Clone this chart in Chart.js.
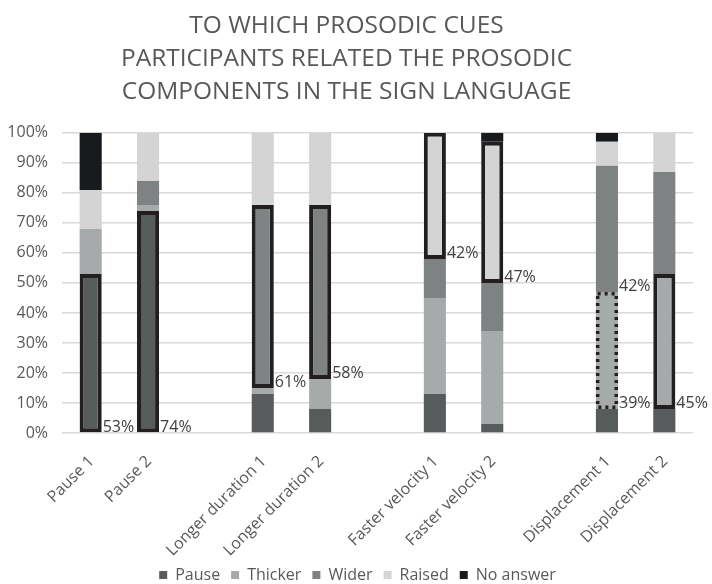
<!DOCTYPE html>
<html>
<head>
<meta charset="utf-8">
<script src="https://cdn.jsdelivr.net/npm/chart.js@4/dist/chart.umd.min.js"></script>
<style>
  html, body { margin: 0; padding: 0; background: #ffffff; }
  #wrap { width: 712px; height: 584px; }
</style>
</head>
<body>
<div id="wrap"><canvas id="c" width="712" height="584"></canvas></div>
<script>
// ---- data ----
const categories = ['Pause 1', 'Pause 2', '', 'Longer duration 1', 'Longer duration 2', '',
                    'Faster velocity 1', 'Faster velocity 2', '', 'Displacement 1', 'Displacement 2'];
const pauseVals    = [53, 74, null, 13,  8, null, 13,  3, null,  8,  8];
const thickerVals  = [15,  2, null,  2, 10, null, 32, 31, null, 39, 45];
const widerVals    = [ 0,  8, null, 61, 58, null, 13, 16, null, 42, 34];
const raisedVals   = [13, 16, null, 24, 24, null, 42, 47, null,  8, 13];
const noAnswerVals = [19,  0, null,  0,  0, null,  0,  3, null,  3,  0];
const yTicks = [0, 10, 20, 30, 40, 50, 60, 70, 80, 90, 100];
const titleLines = ['TO WHICH PROSODIC CUES', 'PARTICIPANTS RELATED THE PROSODIC', 'COMPONENTS IN THE SIGN LANGUAGE'];

// ---- styling ----
const FONT = "'Open Sans', 'Noto Sans', sans-serif";
const TEXT = '#595959';
const EDGE = '#231F20';
// [datasetIndex, categoryIndex, border kind]  (labels drawn for each)
const marked = [
  [0, 0, 'solid'], [0, 1, 'solid'],
  [2, 3, 'solid'], [2, 4, 'solid'],
  [3, 6, 'solid'], [3, 7, 'solid'],
  [2, 9, 'none'],  [1, 9, 'dotted'],
  [1, 10, 'solid']
];
const seriesDefs = [
  ['Pause', pauseVals, '#575B5B'],
  ['Thicker', thickerVals, '#A7AAAA'],
  ['Wider', widerVals, '#7E8282'],
  ['Raised', raisedVals, '#D3D4D3'],
  ['No answer', noAnswerVals, '#171B1D']
];

const datasets = seriesDefs.map(([label, data, color], di) => {
  const bw = data.map((v, ci) => marked.some(m => m[0] === di && m[1] === ci && m[2] === 'solid') ? 4 : 0);
  return {
    label, data,
    backgroundColor: color,
    borderColor: EDGE,
    borderWidth: bw,
    borderSkipped: false,
    barPercentage: 0.385,
    categoryPercentage: 1.0
  };
});

const markPlugin = {
  id: 'markPlugin',
  afterLayout(chart) {
    // nudge the legend to the right, as in the reference
    if (chart.legend) { chart.legend.left += 11; chart.legend.right += 11; }
    // let the rotated category labels run past the axis box (no clipping)
    if (chart.scales.x) { chart.scales.x.bottom = chart.height; }
  },
  afterDatasetsDraw(chart) {
    const ctx = chart.ctx;
    ctx.save();
    marked.forEach(([di, ci, kind]) => {
      const el = chart.getDatasetMeta(di).data[ci];
      if (!el) return;
      const p = el.getProps(['x', 'y', 'base', 'width'], true);
      const left = p.x - p.width / 2, right = p.x + p.width / 2;
      const top = Math.min(p.y, p.base), bottom = Math.max(p.y, p.base);
      if (kind === 'dotted') {
        ctx.strokeStyle = EDGE;
        ctx.lineWidth = 3.5;
        ctx.setLineDash([3, 4]);
        ctx.strokeRect(left + 1.75, top + 1.75, p.width - 3.5, bottom - top - 3.5);
        ctx.setLineDash([]);
      }
      const v = chart.data.datasets[di].data[ci];
      ctx.fillStyle = '#404040';
      ctx.font = '16px ' + FONT;
      ctx.textAlign = 'left';
      ctx.textBaseline = 'alphabetic';
      ctx.fillText(v + '%', right + 1, bottom - 0.5);
    });
    ctx.restore();
  }
};

new Chart(document.getElementById('c'), {
  type: 'bar',
  data: { labels: categories, datasets },
  plugins: [markPlugin],
  options: {
    responsive: false,
    animation: false,
    devicePixelRatio: 1,
    layout: { padding: { left: 0, right: 19, top: 0, bottom: -9 } },
    plugins: {
      title: {
        display: true,
        text: titleLines,
        color: TEXT,
        font: { family: FONT, size: 24.5, weight: 'normal', lineHeight: 1.345 },
        padding: { top: 10, bottom: 24 }
      },
      legend: {
        position: 'bottom',
        labels: {
          color: TEXT,
          font: { family: FONT, size: 16 },
          boxWidth: 8, boxHeight: 8,
          padding: 11,
          generateLabels(chart) {
            return chart.data.datasets.map((ds, i) => ({
              text: ds.label,
              fillStyle: ds.backgroundColor,
              strokeStyle: ds.backgroundColor,
              lineWidth: 0,
              fontColor: TEXT,
              hidden: false,
              datasetIndex: i
            }));
          }
        }
      },
      tooltip: { enabled: false }
    },
    scales: {
      x: {
        stacked: true,
        grid: { display: false },
        border: { display: false },
        ticks: {
          color: TEXT,
          font: { family: FONT, size: 16 },
          autoSkip: false, maxRotation: 45, minRotation: 45, padding: 11, labelOffset: 1
        },
        afterFit(scale) { scale.height = 123; }
      },
      y: {
        stacked: true,
        min: 0, max: 100,
        afterBuildTicks(scale) { scale.ticks = yTicks.map(v => ({ value: v })); },
        ticks: {
          color: TEXT,
          font: { family: FONT, size: 16 },
          padding: 14,
          callback: v => v + '%'
        },
        grid: { color: '#D9D9D9', drawTicks: false, lineWidth: 1.5 },
        border: { display: false },
        afterFit(scale) { scale.width = 62; }
      }
    }
  }
});
</script>
</body>
</html>
